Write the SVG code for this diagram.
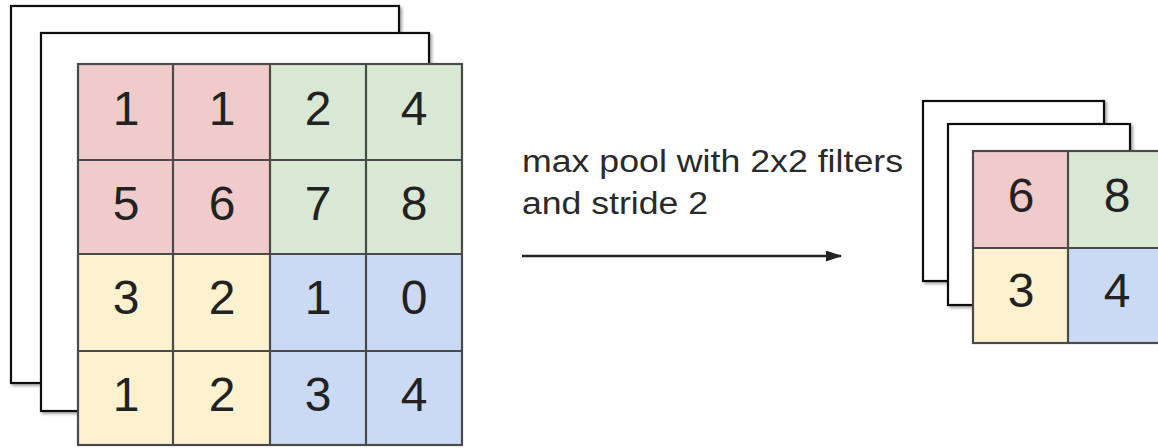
<svg xmlns="http://www.w3.org/2000/svg" width="1158" height="448" viewBox="0 0 1158 448">
  <defs>
    <filter id="sh" x="-5%" y="-5%" width="115%" height="115%">
      <feDropShadow dx="2" dy="2" stdDeviation="1.5" flood-color="#000" flood-opacity="0.35"/>
    </filter>
    <marker id="ah" markerWidth="16" markerHeight="11" refX="15" refY="5.5" orient="auto" markerUnits="userSpaceOnUse" viewBox="0 0 16 11">
      <path d="M0,0 L16,5.5 L0,11 Z" fill="#222"/>
    </marker>
    <style>
      .sheet { fill: #ffffff; stroke: #111; stroke-width: 2.2; }
      .pink { fill: #f1cacc; }
      .green { fill: #d9e8d4; }
      .yellow { fill: #fdf1cf; }
      .blue { fill: #cad9f4; }
      .gl { stroke: #4a4a4a; stroke-width: 2.2; fill: none; }
      .num { font-family: "Liberation Sans", Arial, sans-serif; font-size: 48px; fill: #222; text-anchor: middle; }
      .lbl { font-family: "Liberation Sans", Arial, sans-serif; font-size: 31px; fill: #2a2a2a; }
      .conn { stroke: #222; stroke-width: 2.4; fill: none; }
    </style>
  </defs>
  <rect width="1158" height="448" fill="#ffffff"/>

  <g id="input-sheet-back">
    <rect class="sheet" x="11" y="6" width="388" height="377" filter="url(#sh)"/>
  </g>
  <g id="input-sheet-mid">
    <rect class="sheet" x="41" y="33" width="388" height="378" filter="url(#sh)"/>
  </g>

  <g id="input-grid">
    <rect class="pink" x="78" y="64" width="192" height="190"/>
    <rect class="green" x="270" y="64" width="192" height="190"/>
    <rect class="yellow" x="78" y="254" width="192" height="191"/>
    <rect class="blue" x="270" y="254" width="192" height="191"/>
    <rect class="gl" x="78" y="64" width="384" height="381"/>
    <line class="gl" x1="173" y1="64" x2="173" y2="445"/>
    <line class="gl" x1="270" y1="64" x2="270" y2="445"/>
    <line class="gl" x1="366" y1="64" x2="366" y2="445"/>
    <line class="gl" x1="78" y1="160" x2="462" y2="160"/>
    <line class="gl" x1="78" y1="254" x2="462" y2="254"/>
    <line class="gl" x1="78" y1="351" x2="462" y2="351"/>
    <text class="num" x="126" y="125">1</text>
    <text class="num" x="222" y="125">1</text>
    <text class="num" x="318" y="125">2</text>
    <text class="num" x="414" y="125">4</text>
    <text class="num" x="126" y="220">5</text>
    <text class="num" x="222" y="220">6</text>
    <text class="num" x="318" y="220">7</text>
    <text class="num" x="414" y="220">8</text>
    <text class="num" x="126" y="314">3</text>
    <text class="num" x="222" y="314">2</text>
    <text class="num" x="318" y="314">1</text>
    <text class="num" x="414" y="314">0</text>
    <text class="num" x="126" y="411">1</text>
    <text class="num" x="222" y="411">2</text>
    <text class="num" x="318" y="411">3</text>
    <text class="num" x="414" y="411">4</text>
  </g>

  <g id="label">
    <text class="lbl" x="522" y="172" textLength="381" lengthAdjust="spacingAndGlyphs">max pool with 2x2 filters</text>
    <text class="lbl" x="522" y="214" textLength="186" lengthAdjust="spacingAndGlyphs">and stride 2</text>
  </g>

  <g id="connectors">
    <line class="conn" x1="522" y1="256" x2="841" y2="256" marker-end="url(#ah)"/>
  </g>

  <g id="output-sheet-back">
    <rect class="sheet" x="923" y="101" width="181" height="180" filter="url(#sh)"/>
  </g>
  <g id="output-sheet-mid">
    <rect class="sheet" x="948" y="124" width="182" height="181" filter="url(#sh)"/>
  </g>

  <g id="output-grid">
    <rect class="pink" x="973" y="151" width="95" height="97"/>
    <rect class="green" x="1068" y="151" width="97" height="97"/>
    <rect class="yellow" x="973" y="248" width="95" height="95"/>
    <rect class="blue" x="1068" y="248" width="97" height="95"/>
    <rect class="gl" x="973" y="151" width="192" height="192"/>
    <line class="gl" x1="1068" y1="151" x2="1068" y2="343"/>
    <line class="gl" x1="973" y1="248" x2="1165" y2="248"/>
    <text class="num" x="1021" y="212">6</text>
    <text class="num" x="1117" y="212">8</text>
    <text class="num" x="1021" y="307">3</text>
    <text class="num" x="1117" y="307">4</text>
  </g>
</svg>
